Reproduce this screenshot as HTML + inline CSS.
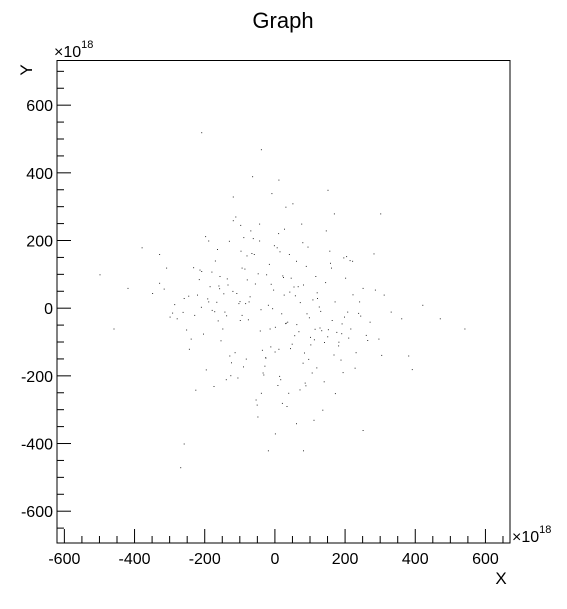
<!DOCTYPE html>
<html><head><meta charset="utf-8"><style>
html,body{margin:0;padding:0;background:#fff;}
svg text{font-family:"Liberation Sans",Arial,sans-serif;fill:#000;}
</style></head><body>
<svg id="chart" width="567" height="604" viewBox="0 0 567 604" xmlns="http://www.w3.org/2000/svg">
<rect width="567" height="604" fill="#fff"/>
<text x="283" y="28" font-size="22" text-anchor="middle">Graph</text>
<g id="points"></g>
<rect x="57" y="60.5" width="453" height="482.5" fill="none" stroke="#000" stroke-width="1"/>
<g id="xaxis"></g>
<g id="yaxis"></g>
<text x="501" y="584" font-size="17" text-anchor="middle">X</text>
<text x="32" y="70" font-size="17" text-anchor="middle" transform="rotate(-90 32 70)">Y</text>
<text x="54" y="57" font-size="16">×10<tspan font-size="11" dy="-9">18</tspan></text>
<text x="512" y="542" font-size="16">×10<tspan font-size="11" dy="-9">18</tspan></text>
</svg>
<script>
const xTicks=[-600,-400,-200,0,200,400,600];
const yTicks=[-600,-400,-200,0,200,400,600];
const ptX=[-20,35,-80,120,-150,60,10,-45,90,-110,200,-230,15,-60,140,-5,75,-180,250,-30,
 55,-95,170,-130,30,-260,105,-15,-70,190,-210,80,-40,125,5,-155,230,-85,45,-300,
 310,-120,20,160,-50,95,-190,270,-10,65,-140,180,-75,40,-240,115,0,-100,215,-25,
 330,-330,85,-165,145,-55,25,-205,285,-35,50,-115,195,-280,135,-90,10,240,-125,70,
 -350,360,-20,100,-175,155,-65,-8,220,-245,60,-135,175,-45,38,-310,295,-95,12,-190,
 420,-420,250,-380,390,-260,470,-500,540,-120,-270,150,-330,80,300,-40,-210,110,380,-460,
 18,-72,132,-158,88,-28,206,-222,48,-98,162,-186,0,26,-52,78,-104,118,-144,168,
 -12,43,-67,97,-121,149,-173,213,-33,57,-87,113,-137,187,-211,7,-3,29,-49,83,
 -91,107,-159,181,-199,237,-17,67,-107,143,-163,203,-227,23,-37,71,-113,127,-147,193,
 -233,259,-263,13,-27,53,-77,101,-131,151,-171,197,-217,227,-247,263,-287,303,-317,33,
 -43,93,-83,119,-139,171,-181,209,-193,9,-13,31,-57,79,-99,129,-127,157,-167,189,
 -1,21,-41,61,-81,111,-101,139,-161,167,-197,221,-215,243,-253,281,-293,41,-63,87];
const ptY=[10,-40,85,30,-60,140,-120,200,-15,45,90,-20,-210,160,-100,55,250,-5,60,-170,
 -80,120,20,-140,300,30,-190,-60,230,-45,110,70,-250,5,180,-95,-130,15,90,-25,
 40,260,-280,120,-320,-150,200,-40,340,65,-210,-110,20,160,-90,95,-370,-35,-60,100,
 -10,75,-220,175,230,-270,40,-75,55,-190,310,-130,150,-30,-300,210,380,20,-160,-240,
 45,-30,-420,-85,-230,170,390,0,140,-120,-340,70,-70,250,-250,120,-90,-20,-200,20,
 10,60,-360,180,-180,-400,-30,100,-60,330,-470,350,160,-420,280,470,520,-330,-140,-60,
 -15,35,-65,95,125,-145,-10,40,-105,170,-35,65,-55,235,-285,195,15,-175,-10,280,
 72,-118,163,-27,51,-83,-9,142,-196,38,117,-61,88,-152,4,-227,186,-44,103,-131,
 -172,26,59,-99,213,-14,131,-68,-205,77,-36,154,-241,92,-123,18,271,-57,44,-189,
 121,-79,-11,168,-146,64,-33,-107,199,-62,141,-25,86,-176,37,-94,12,-138,58,-289,
 -66,182,-149,47,-21,-251,108,-87,29,222,-113,-43,73,-161,246,-8,-198,134,19,-74,
 -128,97,-3,-47,156,-92,21,-216,67,-137,-181,41,114,-22,-63,162,-13,49,207,-228];
const x0=57,x1=510,y0=60.5,y1=543;
const xmin=-621,xmax=670,ymin=-694,ymax=732;
const sx=v=>x0+(v-xmin)/(xmax-xmin)*(x1-x0);
const sy=v=>y1-(v-ymin)/(ymax-ymin)*(y1-y0);
const NS="http://www.w3.org/2000/svg";
const pg=document.getElementById('points');
for(let i=0;i<ptX.length;i++){
 const r=document.createElementNS(NS,'rect');
 r.setAttribute('x',sx(ptX[i]).toFixed(1));r.setAttribute('y',sy(ptY[i]).toFixed(1));
 r.setAttribute('width',1);r.setAttribute('height',1);r.setAttribute('fill','#333');
 
 
 pg.appendChild(r);
}
const xg=document.getElementById('xaxis');
for(let v=-600;v<=650;v+=50){
 const l=document.createElementNS(NS,'line');const X=sx(v);const major=v%200===0;
 l.setAttribute('x1',X);l.setAttribute('x2',X);l.setAttribute('y1',y1);l.setAttribute('y2',y1-(major?14:7));
 l.setAttribute('stroke','#000');
 
 
 xg.appendChild(l);
}
xTicks.forEach(v=>{const t=document.createElementNS(NS,'text');t.setAttribute('x',sx(v));t.setAttribute('y',564);
 t.setAttribute('font-size','16');t.setAttribute('text-anchor','middle');t.textContent=v;
 
 
 xg.appendChild(t);});
const yg=document.getElementById('yaxis');
for(let v=-650;v<=700;v+=50){
 const l=document.createElementNS(NS,'line');const Y=sy(v);const major=v%200===0;
 l.setAttribute('x1',x0);l.setAttribute('x2',x0+(major?14:7));l.setAttribute('y1',Y);l.setAttribute('y2',Y);
 l.setAttribute('stroke','#000');
 
 
 yg.appendChild(l);
}
yTicks.forEach(v=>{const t=document.createElementNS(NS,'text');t.setAttribute('x',53);t.setAttribute('y',sy(v)+6);
 t.setAttribute('font-size','16');t.setAttribute('text-anchor','end');t.textContent=v;
 
 
 yg.appendChild(t);});
</script>
</body></html>
